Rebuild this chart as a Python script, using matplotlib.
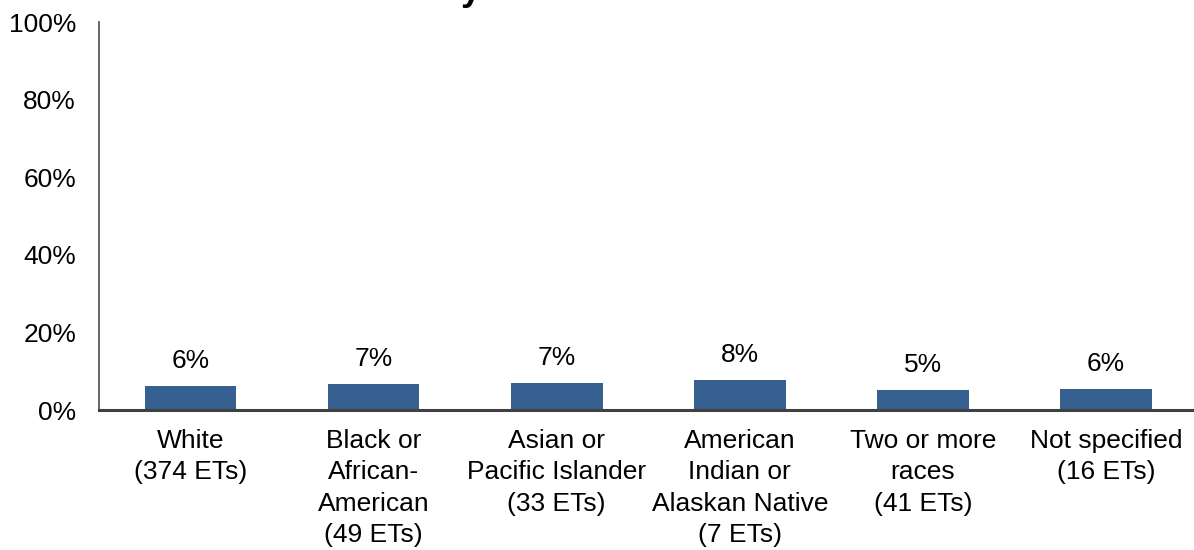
import matplotlib
matplotlib.use("Agg")
import matplotlib.pyplot as plt
from matplotlib.ticker import PercentFormatter

plt.rcParams['font.family'] = ['Liberation Sans', 'DejaVu Sans']

categories = ["White\n(374 ETs)", "Black or\nAfrican-\nAmerican\n(49 ETs)",
              "Asian or\nPacific Islander\n(33 ETs)", "American\nIndian or\nAlaskan Native\n(7 ETs)",
              "Two or more\nraces\n(41 ETs)", "Not specified\n(16 ETs)"]
values = [6.2, 6.7, 6.9, 7.7, 5.2, 5.5]
labels = ["6%", "7%", "7%", "8%", "5%", "6%"]
yticks = [0, 20, 40, 60, 80, 100]

FS = 19

fig = plt.figure(figsize=(11.94, 5.5), dpi=100)
ax = fig.add_axes([99/1194, 140/550, 1098.6/1194, 388/550])
x = range(len(categories))
bars = ax.bar(x, values, width=0.5, color="#36608F")
for xi, v, lab in zip(x, values, labels):
    ax.annotate(lab, (xi, v), xytext=(0, 13), textcoords="offset points",
                ha="center", va="baseline", fontsize=FS, color="black")

ax.set_xlim(-0.5, len(categories) - 0.5)
ax.set_ylim(0, 100)
ax.set_yticks(yticks)
ax.yaxis.set_major_formatter(PercentFormatter(decimals=0))
ax.set_xticks(list(x))
ax.set_xticklabels(categories, fontsize=FS, linespacing=1.37)
ax.tick_params(axis="x", length=0, pad=14)
ax.tick_params(axis="y", length=0, pad=16.5, labelsize=FS)
for s in ["top", "right"]:
    ax.spines[s].set_visible(False)
ax.spines["left"].set_color("#595959")
ax.spines["bottom"].set_color("#404040")
ax.spines["bottom"].set_linewidth(2.2)
ax.spines["left"].set_linewidth(1.3)

fig.text(471/1194, 1.0, "y", ha="center", va="baseline", fontsize=26, fontweight="bold")

fig.savefig("out.png", dpi=100)
